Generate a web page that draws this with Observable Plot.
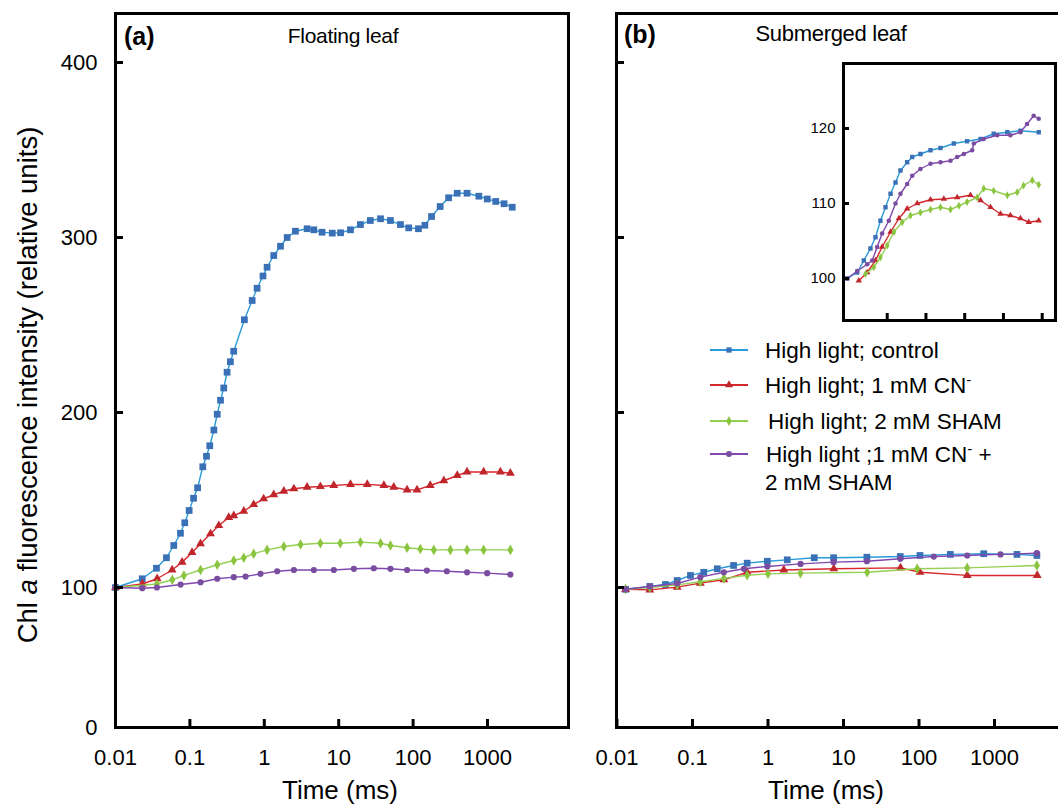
<!DOCTYPE html>
<html><head><meta charset="utf-8">
<script src="https://cdn.jsdelivr.net/npm/d3@7"></script>
<script src="https://cdn.jsdelivr.net/npm/@observablehq/plot@0.6"></script>
<style>
body{margin:0;background:#fff;font-family:"Liberation Sans",Arial,sans-serif;color:#000;}
#chart{position:relative;width:1058px;height:804px;overflow:hidden;background:#fff;}
.abs{position:absolute;}
.txt{position:absolute;white-space:nowrap;line-height:1;}
</style></head><body><div id="chart"></div>
<script>
// ---------------- DATA (time in ms, fluorescence in relative units) ----------------
const seriesNames = ["High light; control", "High light; 1 mM CN-", "High light; 2 mM SHAM", "High light; 1 mM CN- + 2 mM SHAM"];
const markerColors = ["#3a70b5", "#c0262c", "#8bc43f", "#7a4da0"];
const lineColors = ["#2a9ad8", "#d7282d", "#93d052", "#8048b0"];
const markerSymbols = ["square", "triangle", "diamond", "circle"];

const xTickValues = [0.01, 0.1, 1, 10, 100, 1000];
const yTickValues = [0, 100, 200, 300, 400];
const insetYTickValues = [100, 110, 120];
const insetXTickValues = [0.1, 1, 10, 100, 1000];

// (a) Floating leaf
const floatControl = [[0.01,100],[0.0229,105],[0.0355,111],[0.0484,117],[0.0607,124],[0.0747,131],[0.0853,137],[0.0977,144],[0.112,151],[0.127,157],[0.149,169],[0.167,175],[0.185,181],[0.21,190],[0.233,199],[0.258,207],[0.285,214],[0.316,223],[0.35,229],[0.388,235],[0.54,253],[0.687,264],[0.8,271],[0.96,278],[1.09,283],[1.34,289.7],[1.65,295],[2.03,300],[2.62,303.6],[3.76,305],[4.63,304.4],[5.97,303],[8.2,302.5],[10.6,302.7],[14.4,304.4],[19.6,307.4],[26.6,309.7],[36.5,310.7],[49.6,309.7],[67.6,307.4],[87.3,305.5],[118,305],[144,307],[177,312],[231,317.7],[300,322.7],[392,325.3],[531,325.3],[766,323.6],[993,322],[1290,320.6],[1670,319.3],[2150,317.3]];
const floatCN = [[0.01,100],[0.0229,102],[0.0363,105],[0.0577,110],[0.0786,114.5],[0.107,120],[0.139,125],[0.189,130.7],[0.245,135.4],[0.333,140],[0.389,141],[0.53,143.6],[0.72,147.4],[0.98,150.7],[1.34,153],[1.83,155],[2.5,156.4],[3.76,157.3],[5.67,157.7],[8.6,158.3],[14.4,158.9],[24.2,158.9],[40.5,158.3],[55,157.3],[83,155.8],[113,155.8],[170,158.3],[259,161],[392,164],[531,166],[887,166],[1490,166],[2030,165.3]];
const floatSHAM = [[0.01,100],[0.036,102],[0.058,104.4],[0.083,106.9],[0.139,110],[0.233,113],[0.389,115.4],[0.53,117],[0.72,119.3],[1.09,121.5],[1.83,123.4],[3.07,124.6],[5.67,125.3],[10.5,125.3],[19.6,125.9],[36.5,125.3],[49.6,124],[83,122.7],[125,122],[190,121.5],[317,121.5],[531,121.5],[887,121.5],[2030,121.5]];
const floatBoth = [[0.01,100],[0.0229,99.5],[0.036,100],[0.075,101.7],[0.139,103],[0.233,105],[0.389,105.9],[0.56,106.3],[0.89,107.8],[1.49,109.3],[2.5,110],[4.63,110],[8.6,110],[16,110.7],[29.6,111],[49.6,110.7],[83,110],[153,109.7],[284,109.3],[531,108.7],[990,108.2],[2030,107.4]];

// (b) Submerged leaf
const subControl = [[0.013,98.7],[0.0272,100.6],[0.0439,101.7],[0.0627,104],[0.094,106.9],[0.141,108.7],[0.213,110.7],[0.35,112.6],[0.53,113.9],[0.98,115],[1.8,115.8],[4.1,117],[7.4,117],[20.4,117.3],[56.5,117.7],[103,118.3],[260,118.9],[720,119.3],[1985,118.9],[3640,118.3]];
const subCN = [[0.013,98.7],[0.0272,98.3],[0.0627,100.2],[0.127,102.5],[0.26,104.4],[0.53,108.7],[1.62,110],[7.43,110.7],[56.9,111.2],[103,108.7],[435,106.9],[3680,106.9]];
const subSHAM = [[0.013,98.7],[0.0272,100],[0.0627,101.5],[0.127,103.3],[0.26,105.2],[0.53,107],[1.0,107.8],[2.69,108.2],[20.6,108.7],[94.6,110.7],[435,111.2],[3640,112.6]];
const subBoth = [[0.013,98.7],[0.0272,100.6],[0.0627,102.3],[0.127,105.9],[0.26,108.7],[0.48,110.7],[0.98,112],[2.7,113.5],[7.4,114.5],[20.4,115],[56.5,116.4],[157,117.7],[435,118.3],[1200,118.9],[3640,119.6]];

// (b) inset
const insetControl = [[0.0093,100],[0.0168,100.8],[0.0249,102.4],[0.037,104],[0.0499,105.5],[0.067,107.7],[0.0904,109.5],[0.122,111.3],[0.164,112.8],[0.22,114.4],[0.328,115.5],[0.442,116.2],[0.724,116.6],[1.31,117.1],[2.37,117.4],[5.25,118],[11.5,118.3],[25.7,118.6],[56.2,119.3],[126,119.5],[275,119.7],[813,119.5]];
const insetCN = [[0.0185,99.7],[0.0305,100.8],[0.0499,102.4],[0.074,104.2],[0.122,106.2],[0.2,108],[0.328,109.3],[0.595,110],[1.31,110.5],[2.89,110.6],[6.4,110.8],[14.1,111.1],[25.7,110.4],[46.4,109.5],[84,108.6],[151,108.4],[275,108],[450,107.5],[813,107.7]];
const insetSHAM = [[0.0275,100.6],[0.045,101.5],[0.067,102.8],[0.1,104.4],[0.149,106.2],[0.244,107.5],[0.4,108.4],[0.72,108.8],[1.31,109.2],[2.37,109.5],[4.3,109.2],[7.1,109.7],[11.5,110.2],[21,110.8],[31,112],[56,111.7],[126,111.1],[227,111.5],[330,112.4],[555,113.1],[813,112.5]];
const insetBoth = [[0.0093,100],[0.0168,101],[0.0305,101.9],[0.041,102.4],[0.055,104.2],[0.074,106],[0.11,107.7],[0.164,110],[0.22,111.3],[0.328,112.6],[0.442,113.7],[0.72,114.6],[1.31,115.3],[2.37,115.5],[4.3,115.7],[6.4,116.2],[9.5,116.6],[15.6,117.1],[17.2,118],[31,118.6],[69,119.1],[151,119.1],[275,119.5],[407,120.6],[603,121.7],[813,121.3]];

// ---------------- DRAWING ----------------
const chart = document.getElementById("chart");
const FONT = '"Liberation Sans", Arial, sans-serif';

function seriesMarks(groups, sizes) {
  const marks = [];
  groups.forEach((pairs, i) => {
    const data = pairs.map(([t, v]) => ({t, v}));
    marks.push(Plot.line(data, {x: "t", y: "v", stroke: lineColors[i], strokeWidth: 1.4}));
    marks.push(Plot.dot(data, {x: "t", y: "v", fill: markerColors[i], symbol: markerSymbols[i], r: sizes[i], stroke: "none"}));
  });
  return marks;
}

function mainPanel({groups, left, width, mLeft, mRight, xRange, labels}) {
  const p = Plot.plot({
    width, height: 804,
    marginLeft: mLeft, marginRight: mRight, marginTop: 13, marginBottom: 77,
    x: {type: "log", domain: [0.01, 1000], range: xRange},
    y: {type: "linear", domain: [0, 100, 400], range: [727, 587, 62]},
    style: {fontFamily: FONT, fontSize: "22px", background: "transparent", overflow: "visible", color: "#000"},
    marks: [
      ...seriesMarks(groups, [3.8, 3.3, 3.2, 3.1]),
      Plot.axisX({ticks: xTickValues, tickSize: -8, tickPadding: 30, strokeWidth: 3, tickFormat: d => String(d), label: null}),
      Plot.axisY({ticks: yTickValues, tickSize: -8, tickPadding: 26, strokeWidth: 3, tickFormat: labels ? (d => String(d)) : (() => ""), label: null}),
      Plot.frame({stroke: "#000", strokeWidth: 3})
    ]
  });
  p.classList.add("abs");
  p.style.left = left + "px";
  p.style.top = "0px";
  chart.appendChild(p);
}

mainPanel({groups: [floatControl, floatCN, floatSHAM, floatBoth], left: 0, width: 590, mLeft: 115, mRight: 22, xRange: [115, 487], labels: true});
mainPanel({groups: [subControl, subCN, subSHAM, subBoth], left: 540, width: 560, mLeft: 76, mRight: 24, xRange: [76.5, 454], labels: false});

// inset
const inset = Plot.plot({
  width: 275, height: 300,
  marginLeft: 53, marginRight: 10, marginTop: 23, marginBottom: 20,
  x: {type: "log", domain: [0.1, 1000], range: [96.7, 251.7]},
  y: {type: "linear", domain: [100, 120], range: [238, 88]},
  style: {fontFamily: FONT, fontSize: "15px", background: "#fff", overflow: "visible", color: "#000"},
  marks: [
    ...seriesMarks([insetControl, insetCN, insetSHAM, insetBoth], [2.5, 2.4, 2.4, 2.3]),
    Plot.axisX({ticks: insetXTickValues, tickSize: -7, strokeWidth: 3, tickFormat: () => "", label: null}),
    Plot.axisY({ticks: insetYTickValues, tickSize: -6, tickPadding: 14, strokeWidth: 3, tickFormat: d => String(d), label: null}),
    Plot.frame({stroke: "#000", strokeWidth: 3})
  ]
});
inset.classList.add("abs");
inset.style.left = "790px";
inset.style.top = "40px";
chart.appendChild(inset);

// texts
function addText(html, x, y, size, opts = {}) {
  const d = document.createElement("div");
  d.className = "txt";
  d.innerHTML = html;
  d.style.fontSize = size + "px";
  d.style.left = x + "px";
  d.style.top = y + "px";
  if (opts.bold) d.style.fontWeight = "bold";
  d.style.transform = opts.transform || "translate(-50%,-50%)";
  if (opts.spacing) d.style.letterSpacing = opts.spacing;
  chart.appendChild(d);
  return d;
}
addText("(a)", 124, 36, 25, {bold: true, transform: "translate(0,-50%)"});
addText("Floating leaf", 343, 35, 21, {spacing: "-0.3px"});
addText("(b)", 624, 34, 25, {bold: true, transform: "translate(0,-50%)"});
addText("Submerged leaf", 831, 34, 22, {spacing: "-0.3px"});
addText("Time (ms)", 340, 790, 26);
addText("Time (ms)", 826, 790, 26);
addText("Chl <i>a</i> fluorescence intensity (relative units)", 28, 385, 27.5, {transform: "translate(-50%,-50%) rotate(-90deg)"});

// legend
const legendSvg = d3.select(chart).append("svg").attr("class", "abs")
  .style("left", "700px").style("top", "335px").attr("width", 358).attr("height", 165)
  .style("font-family", FONT).style("font-size", "22.5px");
const symbolTypes = {square: d3.symbolSquare, triangle: d3.symbolTriangle, diamond: d3.symbolDiamond, circle: d3.symbolCircle};
const rowY = [15, 50, 86, 119];
const textX = [65, 65, 68, 66];
seriesNames.forEach((name, i) => {
  const g = legendSvg.append("g");
  g.append("line").attr("x1", 10).attr("x2", 48).attr("y1", rowY[i]).attr("y2", rowY[i]).attr("stroke", lineColors[i]).attr("stroke-width", 1.8);
  g.append("path").attr("d", d3.symbol().type(symbolTypes[markerSymbols[i]]).size(28)()).attr("transform", `translate(29,${rowY[i]})`).attr("fill", markerColors[i]);
});
function legendText(i, parts) {
  const t = legendSvg.append("text").attr("x", textX[i]).attr("y", rowY[i]).attr("dy", "0.35em");
  let raised = false;
  parts.forEach(([s, sup]) => {
    const ts = t.append("tspan").text(s);
    if (sup) { ts.attr("font-size", "15px").attr("dy", -8); raised = true; }
    else if (raised) { ts.attr("dy", 8); raised = false; }
  });
}
legendText(0, [["High light; control"]]);
legendText(1, [["High light; 1 mM CN"], ["-", true]]);
legendText(2, [["High light; 2 mM SHAM"]]);
legendText(3, [["High light ;1 mM CN"], ["-", true], [" +"]]);
legendSvg.append("text").attr("x", 65).attr("y", 147).attr("dy", "0.35em").text("2 mM SHAM");
</script></body></html>
